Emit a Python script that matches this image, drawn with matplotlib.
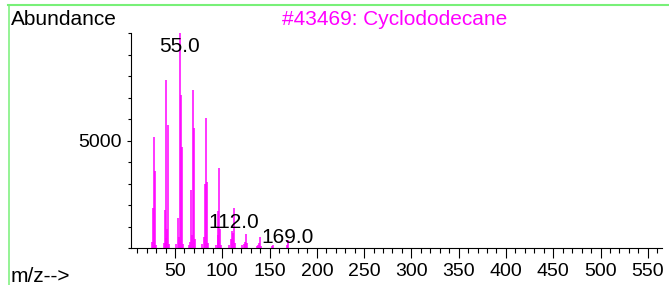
import matplotlib
matplotlib.use('Agg')
import matplotlib.pyplot as plt
from matplotlib.lines import Line2D
from matplotlib.ticker import MultipleLocator, FixedLocator

plt.rcParams['font.family'] = ['Liberation Sans', 'DejaVu Sans']

# m/z and abundance
mz = [26, 27, 28, 29, 30,
      38, 39, 40, 41, 42, 43, 44,
      51, 53, 54, 55, 56, 57, 58,
      65, 66, 67, 68, 69, 70, 71,
      79, 81, 82, 83, 84, 85,
      93, 95, 96, 97, 98, 99,
      107, 109, 110, 111, 112, 113,
      121, 123, 124, 125, 126,
      137, 138, 139, 140, 141,
      153, 154, 168, 169]
abund = [300, 1850, 5140, 3590, 150,
         250, 1770, 450, 7800, 900, 5730, 200,
         200, 1400, 500, 10000, 7130, 4720, 200,
         150, 300, 2700, 600, 7360, 5580, 400,
         200, 500, 3000, 6040, 3090, 250,
         150, 600, 1700, 3710, 900, 150,
         150, 400, 800, 700, 1850, 250,
         150, 200, 300, 640, 250,
         100, 150, 250, 530, 100,
         100, 120, 120, 370]

peak_labels = [(55, 9130, '55.0'), (112, 920, '112.0'), (169.3, 250, '169.0')]
title = '#43469: Cyclododecane'

fig = plt.figure(figsize=(6.69, 2.85), dpi=100)
ax = fig.add_axes([0.1958, 0.1298, 0.7937, 0.7544])

ax.vlines(mz, 0, abund, color='#ff00ff', linewidth=1.1)

for x, y, t in peak_labels:
    ax.text(x, y, t, ha='center', va='baseline', fontsize=15, color='black')

ax.set_xlim(3.46, 565)
ax.set_ylim(0, 10000)

for s in ['top', 'right']:
    ax.spines[s].set_visible(False)
for s in ['left', 'bottom']:
    ax.spines[s].set_linewidth(0.8)

ax.xaxis.set_major_locator(MultipleLocator(50))
ax.xaxis.set_minor_locator(MultipleLocator(10))
ax.xaxis.set_major_formatter(plt.FuncFormatter(lambda v, p: '%d' % v if v > 0 else ''))
ax.yaxis.set_major_locator(FixedLocator([5000]))
ax.yaxis.set_minor_locator(MultipleLocator(1000))
ax.tick_params(axis='x', which='major', length=7, width=0.8, pad=3.5, labelsize=14)
ax.tick_params(axis='x', which='minor', length=3.5, width=0.8)
ax.tick_params(axis='y', which='major', length=3, width=0.8, pad=4, labelsize=14)
ax.tick_params(axis='y', which='minor', length=2, width=0.8)

fig.text(11 / 669, 1 - 10 / 285, 'Abundance', ha='left', va='top', fontsize=15)
fig.text(395 / 669, 1 - 10 / 285, title, ha='center', va='top', fontsize=15, color='#ff00ff')
fig.text(11 / 669, 3 / 285, 'm/z-->', ha='left', va='baseline', fontsize=15)

# green frame lines
fig.add_artist(Line2D([8 / 669, 1], [1 - 4.5 / 285, 1 - 4.5 / 285], color='#78f078', linewidth=1.5))
fig.add_artist(Line2D([9.3 / 669, 9.3 / 669], [0, 1 - 4.5 / 285], color='#78f078', linewidth=1.1))

fig.savefig('out.png', dpi=100)
